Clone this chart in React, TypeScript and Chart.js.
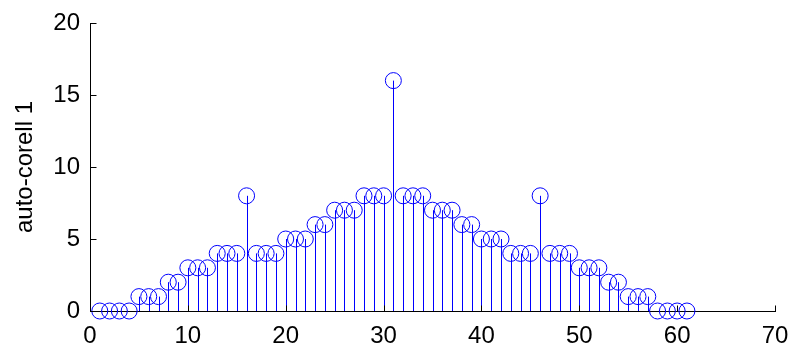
import React, { useEffect, useRef } from "react";
import { Chart, registerables } from "chart.js";

Chart.register(...registerables);

// Auto-correlation values at lags 1..61
const corrValues: number[] = [
  0, 0, 0, 0, 1, 1, 1, 2, 2, 3, 3, 3, 4, 4, 4, 8, 4, 4, 4, 5, 5, 5, 6, 6, 7, 7, 7, 8, 8, 8,
  16,
  8, 8, 8, 7, 7, 7, 6, 6, 5, 5, 5, 4, 4, 4, 8, 4, 4, 4, 3, 3, 3, 2, 2, 1, 1, 1, 0, 0, 0, 0,
];
const firstLag = 1;

const xTicks: number[] = [0, 10, 20, 30, 40, 50, 60, 70];
const yTicks: number[] = [0, 5, 10, 15, 20];
const yTitle = "auto-corell 1";

const STEM_COLOR = "#0000ff";
const FONT = "'Liberation Sans', Arial, Helvetica, sans-serif";
const FONT_SIZE = 24;

// Vertical stems from the zero baseline to each sample
const stemPlugin = {
  id: "stems",
  beforeDatasetsDraw(chart: any) {
    const { ctx, scales } = chart;
    const meta = chart.getDatasetMeta(0);
    const data = chart.data.datasets[0].data as { x: number; y: number }[];
    const y0 = scales.y.getPixelForValue(0);
    ctx.save();
    ctx.strokeStyle = STEM_COLOR;
    ctx.lineWidth = 1;
    data.forEach((pt, i) => {
      if (pt.y === 0) return;
      const px = Math.round(meta.data[i].x) + 0.5;
      const py = scales.y.getPixelForValue(pt.y);
      ctx.beginPath();
      ctx.moveTo(px, y0);
      ctx.lineTo(px, py);
      ctx.stroke();
    });
    ctx.restore();
  },
};

// Short tick marks pointing into the plot area
const inwardTicksPlugin = {
  id: "inwardTicks",
  afterDraw(chart: any) {
    const { ctx, scales, chartArea } = chart;
    const len = 6;
    ctx.save();
    ctx.strokeStyle = "#000";
    ctx.lineWidth = 1;
    const left = Math.round(chartArea.left) + 0.5;
    const bottom = Math.round(chartArea.bottom) + 0.5;
    ctx.beginPath();
    yTicks.forEach((v) => {
      const py = Math.round(scales.y.getPixelForValue(v)) + 0.5;
      ctx.moveTo(left, py);
      ctx.lineTo(left + len, py);
    });
    xTicks.forEach((v) => {
      const px = Math.round(scales.x.getPixelForValue(v)) + 0.5;
      ctx.moveTo(px, bottom);
      ctx.lineTo(px, bottom - len);
    });
    ctx.stroke();
    ctx.restore();
  },
};

export default function App() {
  const canvasRef = useRef<HTMLCanvasElement | null>(null);

  useEffect(() => {
    if (!canvasRef.current) return;
    const points = corrValues.map((v, i) => ({ x: firstLag + i, y: v }));
    const chart = new Chart(canvasRef.current, {
      type: "scatter",
      data: {
        datasets: [
          {
            data: points,
            showLine: false,
            pointStyle: "circle",
            pointRadius: 8,
            pointHoverRadius: 8,
            pointBorderWidth: 1,
            pointBorderColor: STEM_COLOR,
            pointBackgroundColor: "rgba(0,0,0,0)",
            clip: false,
          } as any,
        ],
      },
      options: {
        responsive: false,
        animation: false,
        events: [],
        layout: { padding: { top: 23, right: 13, left: 0, bottom: 0 } },
        plugins: {
          legend: { display: false },
          tooltip: { enabled: false },
        },
        scales: {
          x: {
            type: "linear",
            min: 0,
            max: 70,
            afterFit: (s: any) => {
              s.height = 35;
              s.paddingLeft = 0;
              s.paddingRight = 0;
            },
            afterBuildTicks: (s: any) => {
              s.ticks = xTicks.map((v) => ({ value: v }));
            },
            grid: { display: false, drawTicks: false },
            border: { display: true, color: "#000", width: 1 },
            ticks: {
              padding: 11,
              color: "#000",
              font: { family: FONT, size: FONT_SIZE },
              maxRotation: 0,
              autoSkip: false,
            },
          },
          y: {
            type: "linear",
            min: 0,
            max: 20,
            afterFit: (s: any) => {
              s.width = 90;
              s.paddingTop = 0;
              s.paddingBottom = 0;
            },
            afterBuildTicks: (s: any) => {
              s.ticks = yTicks.map((v) => ({ value: v }));
            },
            grid: { display: false, drawTicks: false },
            border: { display: true, color: "#000", width: 1 },
            ticks: {
              padding: 10,
              color: "#000",
              font: { family: FONT, size: FONT_SIZE },
              autoSkip: false,
            },
            title: {
              display: true,
              text: yTitle,
              color: "#000",
              font: { family: FONT, size: FONT_SIZE },
              padding: { top: 11, bottom: 0 },
            },
          },
        },
      },
      plugins: [stemPlugin, inwardTicksPlugin],
    });
    return () => chart.destroy();
  }, []);

  return (
    <div
      style={{
        position: "fixed",
        left: 0,
        top: 0,
        width: 788,
        height: 346,
        background: "#fff",
      }}
    >
      <canvas ref={canvasRef} width={788} height={346} />
    </div>
  );
}
